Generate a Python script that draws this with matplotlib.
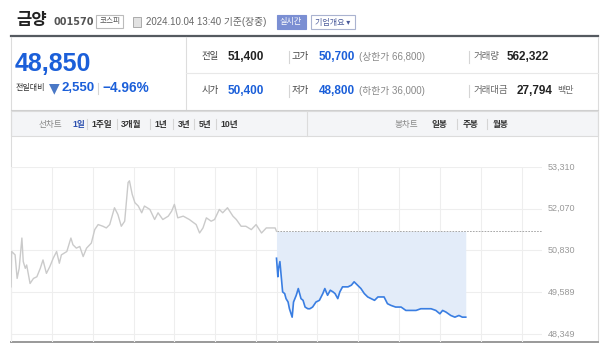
import matplotlib
matplotlib.use('Agg')
import matplotlib.pyplot as plt
from matplotlib.patches import Rectangle

plt.rcParams['font.family'] = ['Liberation Sans', 'Noto Sans CJK KR', 'DejaVu Sans']

# 전일 (minutes since 09:00, price)
prev_min = [0, 1, 6, 9, 12, 16, 18, 21, 23, 28, 33, 38, 43, 47, 52, 57, 62, 67, 71, 74,
            82, 88, 91, 96, 101, 106, 111, 118, 123, 128, 135, 140, 145, 152, 157, 162,
            167, 172, 174, 178, 182, 187, 192, 196, 204, 211, 216, 223, 231, 236, 240,
            245, 253, 262, 272, 277, 282, 287, 294, 299, 306, 311, 318, 326, 331, 338,
            345, 353, 360, 368, 375, 382, 388, 390]
prev_price = [49750, 50800, 50700, 50000, 50300, 51200, 50500, 50300, 50400, 49850, 50000,
              50050, 50300, 50550, 50150, 50350, 50600, 50800, 50450, 50700, 50800, 51200,
              51000, 50900, 50950, 50650, 50900, 51050, 51450, 51600, 51550, 51500, 51600,
              52100, 51900, 51550, 51700, 52850, 52900, 52500, 52250, 52150, 51950, 52150,
              52050, 51750, 51950, 51750, 51850, 52000, 52200, 51800, 51850, 51750, 51600,
              51350, 51500, 51800, 51700, 51750, 52050, 51950, 52100, 51850, 51750, 51550,
              51550, 51450, 51600, 51350, 51500, 51500, 51500, 51400]

# 당일
today_min = [0, 2, 3, 5, 7, 9, 12, 14, 17, 19, 23, 25, 29, 32, 36, 39, 42, 46, 49, 53,
             58, 63, 68, 71, 75, 79, 83, 86, 90, 93, 97, 105, 110, 114, 119, 124, 129,
             134, 139, 144, 149, 154, 158, 163, 168, 175, 183, 190, 197, 205, 212, 220,
             227, 234, 240, 244, 249, 256, 262, 268, 273, 278]
today_price = [50600, 50050, 50300, 50500, 50050, 49600, 49550, 49400, 49300, 49100, 48850,
               49300, 49500, 49700, 49400, 49350, 49150, 49100, 49100, 49150, 49300, 49350,
               49550, 49700, 49500, 49650, 49600, 49550, 49400, 49600, 49750, 49750, 49800,
               49900, 49800, 49700, 49550, 49450, 49400, 49350, 49450, 49450, 49450, 49250,
               49200, 49150, 49150, 49050, 49050, 49050, 49100, 49100, 49100, 49050, 48950,
               49050, 49000, 48900, 48850, 48900, 48850, 48850]

prev_close = 51400
y_ticks = [48349, 49589, 50830, 52070, 53310]
y_labels = ['48,349', '49,589', '50,830', '52,070', '53,310']

blue = '#1b5fd9'

fig = plt.figure(figsize=(6, 3.44), dpi=100)

# 화면 틀 (pixel coordinates)
bg = fig.add_axes([0, 0, 1, 1])
bg.set_xlim(0, 600)
bg.set_ylim(344, 0)
bg.axis('off')


def t(x, y, s, size=7, color='#333', weight='normal', **kw):
    bg.text(x, y, s, fontsize=size, color=color, weight=weight, va='center', ha='left', **kw)


def sep(x, y0, y1, color='#d5d5d5'):
    bg.plot([x, x], [y0, y1], color=color, lw=0.8)


# 제목 줄
t(16, 20, '금양', size=12, color='#222', weight='bold')
t(53, 22, '001570', size=7, color='#555', weight='bold', family='DejaVu Sans')
bg.add_patch(Rectangle((96, 15), 27, 13, fc='white', ec='#bbb', lw=0.8))
t(100, 21.5, '코스피', size=5.5, color='#555')
bg.add_patch(Rectangle((133, 17), 8, 10, fc='#e2e2e2', ec='#aaa', lw=0.7))
t(146, 22, '2024.10.04 13:40 기준(장중)', size=7, color='#666')
bg.add_patch(Rectangle((277, 15), 29, 14, fc='#7b8fd3', ec='#7b8fd3', lw=0.8))
t(280, 22, '실시간', size=5.8, color='white')
bg.add_patch(Rectangle((311, 15), 44, 14, fc='white', ec='#aab3d0', lw=0.8))
t(315, 22, '기업개요 ▾', size=5.8, color='#4a5a9a',
  family=['Noto Sans CJK KR', 'DejaVu Sans'])

# 요약 패널
bg.plot([11, 598], [36, 36], color='#555a60', lw=1.6)
bg.plot([11, 11], [37, 342], color='#dcdcdc', lw=0.8)
bg.plot([598, 598], [37, 342], color='#dcdcdc', lw=0.8)
bg.plot([186, 186], [37, 109], color='#dddddd', lw=0.8)
bg.plot([186, 598], [73, 73], color='#e8e8e8', lw=0.8)
bg.plot([11, 598], [109.5, 109.5], color='#cfcfcf', lw=0.8)

t(15, 64, '48,850', size=18, color=blue, weight='bold')
t(16, 88, '전일대비', size=5.8, color='#333')
t(48.5, 88.5, '▼', size=10, color='#4a78c6', family=['DejaVu Sans'])
t(61, 88, '2,550', size=9.5, color=blue, weight='bold')
sep(98, 83, 94)
t(102, 88, '−4.96%', size=9.8, color=blue, weight='bold')

rows = [57, 91]
t(202, rows[0], '전일', size=6.8, color='#444')
t(228, rows[0], '51,400', size=8.5, color='#222', weight='bold')
t(202, rows[1], '시가', size=6.8, color='#444')
t(228, rows[1], '50,400', size=8.5, color=blue, weight='bold')
for r in rows:
    sep(289, r - 6, r + 6)
    sep(469, r - 6, r + 6)
t(292, rows[0], '고가', size=6.8, color='#444')
t(319, rows[0], '50,700', size=8.5, color=blue, weight='bold')
t(359, rows[0], '(상한가 66,800)', size=7, color='#888')
t(292, rows[1], '저가', size=6.8, color='#444')
t(319, rows[1], '48,800', size=8.5, color=blue, weight='bold')
t(359, rows[1], '(하한가 36,000)', size=7, color='#888')
t(474, rows[0], '거래량', size=6.8, color='#666')
t(507, rows[0], '562,322', size=8.5, color='#222', weight='bold')
t(474, rows[1], '거래대금', size=6.8, color='#666')
t(517, rows[1], '27,794', size=8.5, color='#222', weight='bold')
t(557, rows[1], '백만', size=6.5, color='#666')

# 탭
bg.add_patch(Rectangle((11, 111), 587, 25, fc='#f4f5f7', ec='#dcdcdc', lw=0.8))
sep(307, 111, 136, color='#dcdcdc')
ty = 124
t(39, ty, '선차트', size=6.2, color='#888')
tabs = [('1일', 72), ('1주일', 91), ('3개월', 121), ('1년', 154), ('3년', 178),
        ('5년', 199), ('10년', 220)]
for i, (lab, x) in enumerate(tabs):
    t(x, ty, lab, size=6.2, color='#2b4fae' if i == 0 else '#333', weight='bold')
for x in [87, 117, 150, 173, 194, 216]:
    sep(x, ty - 5, ty + 5)
t(395, ty, '봉차트', size=6.2, color='#888')
for lab, x in [('일봉', 432), ('주봉', 463), ('월봉', 493)]:
    t(x, ty, lab, size=6.2, color='#333', weight='bold')
for x in [457, 487]:
    sep(x, ty - 5, ty + 5)

bg.plot([11, 598], [342, 342], color='#999', lw=1.4)

# 차트
ax = fig.add_axes([11 / 600, 2 / 344, 531 / 600, 175 / 344])
ax.patch.set_alpha(0)
ax.set_xlim(0, 780)
ax.set_ylim(48112, 53310)
for v in y_ticks:
    ax.axhline(v, color='#eeeeee', lw=0.8, zorder=0)
for m in list(range(0, 390, 60)) + list(range(390, 780, 60)):
    ax.axvline(m, color='#eeeeee', lw=0.8, zorder=0)

today_x = [390 + m for m in today_min]
ax.fill_between(today_x, today_price, prev_close, color='#e3ecf9', lw=0, zorder=1)
ax.plot([390, 780], [prev_close, prev_close], color='#9a9a9a', lw=0.6,
        linestyle=(0, (2, 1.5)), zorder=2)
ax.plot(prev_min, prev_price, color='#cacaca', lw=1.0, zorder=3)
ax.plot(today_x, today_price, color='#3a7ee2', lw=1.2, zorder=4)

for s in ax.spines.values():
    s.set_visible(False)
ax.set_xticks([])
ax.set_yticks([])

for v, lab in zip(y_ticks, y_labels):
    bg.text(548, 167 + (53310 - v) / (53310 - 48112) * 175, lab, fontsize=6.5,
            color='#999', va='center', ha='left')

fig.savefig('out.png', dpi=100)
